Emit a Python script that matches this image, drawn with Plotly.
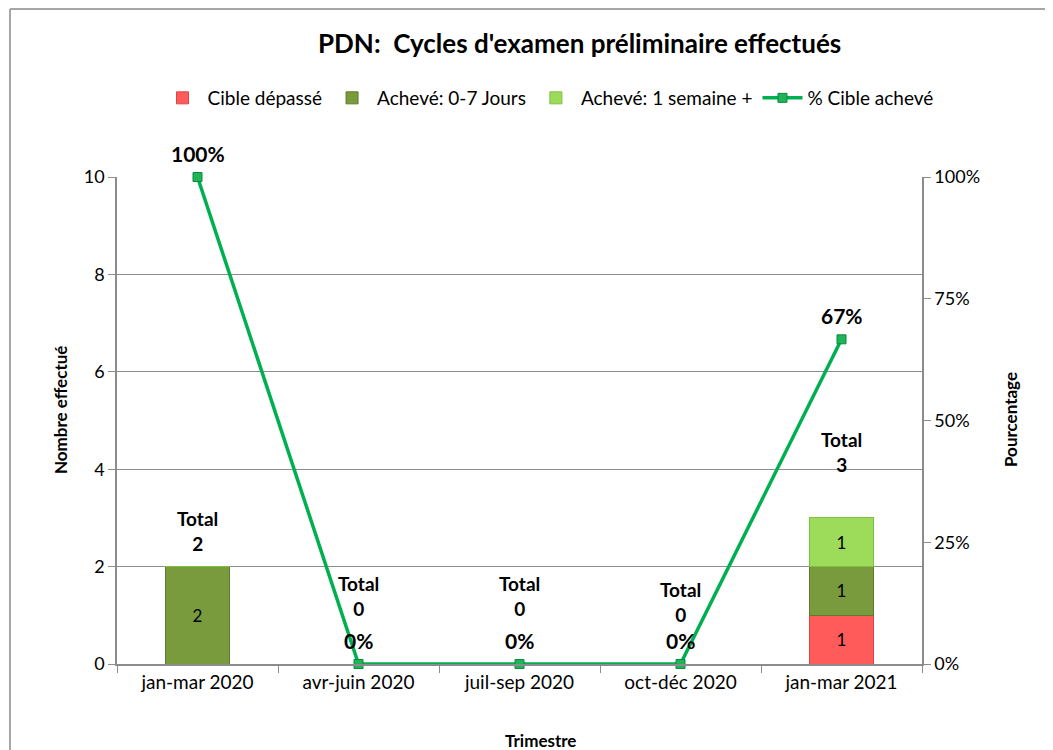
import plotly.graph_objects as go

categories = ["jan-mar 2020", "avr-juin 2020", "juil-sep 2020", "oct-déc 2020", "jan-mar 2021"]
cible_depasse = [0, 0, 0, 0, 1]
acheve_0_7 = [2, 0, 0, 0, 1]
acheve_1_sem = [0, 0, 0, 0, 1]
pct_acheve = [1.0, 0.0, 0.0, 0.0, 0.6667]
pct_labels = ["100%", "0%", "0%", "0%", "67%"]
totals = [a + b + c for a, b, c in zip(cible_depasse, acheve_0_7, acheve_1_sem)]
total_yshift = [10, 42, 42, 36, 40]

FONT = "Lato, 'Open Sans', sans-serif"
GRID = "#8c8c8c"
AX = "#8c8c8c"

# page has an 8px body margin; coordinates below are page pixels
OFF = 8
W, H = 1053 - OFF, 750 - OFF
L, R, T, B = 117, 922, 177, 664


def px(x):
    return (x - L) / (R - L)


def py(y):
    return (B - y) / (B - T)


def lbl(vals):
    return [str(v) if v else "" for v in vals]


fig = go.Figure()
fig.add_trace(go.Bar(
    name="Cible dépassé", x=categories, y=cible_depasse, text=lbl(cible_depasse),
    marker=dict(color="#FF5B5B", line=dict(color="#D94545", width=1)),
    textposition="inside", insidetextanchor="middle",
    textfont=dict(color="black", size=17, family=FONT), width=0.4,
))
fig.add_trace(go.Bar(
    name="Achevé: 0-7 Jours", x=categories, y=acheve_0_7, text=lbl(acheve_0_7),
    marker=dict(color="#7A9A3E", line=dict(color="#5E7A2C", width=1)),
    textposition="inside", insidetextanchor="middle",
    textfont=dict(color="black", size=17, family=FONT), width=0.4,
))
fig.add_trace(go.Bar(
    name="Achevé: 1 semaine +", x=categories, y=acheve_1_sem, text=lbl(acheve_1_sem),
    marker=dict(color="#9DDB5A", line=dict(color="#7FBF3E", width=1)),
    textposition="inside", insidetextanchor="middle",
    textfont=dict(color="black", size=17, family=FONT), width=0.4,
))
fig.add_trace(go.Scatter(
    name="% Cible achevé", x=categories, y=pct_acheve, yaxis="y2",
    mode="lines+markers",
    line=dict(color="#00B050", width=3.5),
    marker=dict(symbol="square", size=9, color="#1DB45A", line=dict(color="#0A8A3A", width=1)),
    cliponaxis=False,
))

for c, p, t in zip(categories, pct_acheve, pct_labels):
    fig.add_annotation(
        x=c, y=p, xref="x", yref="y2", yanchor="middle", xanchor="center", yshift=24,
        text="<b>%s</b>" % t, showarrow=False,
        font=dict(size=21, color="black", family=FONT),
    )

for c, t, ys in zip(categories, totals, total_yshift):
    fig.add_annotation(
        x=c, y=t, xref="x", yref="y", yanchor="bottom", xanchor="center", yshift=ys,
        text="<b>Total<br>%d</b>" % t, showarrow=False,
        font=dict(size=19, color="black", family=FONT),
    )

fig.add_annotation(
    x=px(579), y=py(43), xref="paper", yref="paper", xanchor="center", yanchor="middle",
    text="<b>PDN:  Cycles d'examen préliminaire effectués</b>", showarrow=False,
    font=dict(size=26, color="black", family=FONT),
)
fig.add_annotation(
    x=px(60), y=py(410), xref="paper", yref="paper", textangle=-90,
    xanchor="center", yanchor="middle",
    text="<b>Nombre effectué</b>", showarrow=False,
    font=dict(size=17, color="black", family=FONT),
)
fig.add_annotation(
    x=px(1010), y=py(420), xref="paper", yref="paper", textangle=-90,
    xanchor="center", yanchor="middle",
    text="<b>Pourcentage</b>", showarrow=False,
    font=dict(size=17, color="black", family=FONT),
)
fig.add_annotation(
    x=px(540), y=py(740), xref="paper", yref="paper", xanchor="center", yanchor="middle",
    text="<b>Trimestre</b>", showarrow=False,
    font=dict(size=17, color="black", family=FONT),
)

# outer chart border (top and left)
fig.add_shape(type="line", xref="paper", yref="paper",
              x0=px(10), x1=px(1070), y0=py(9), y1=py(9),
              line=dict(color="#a6a6a6", width=2))
fig.add_shape(type="line", xref="paper", yref="paper",
              x0=px(10), x1=px(10), y0=py(9), y1=py(770),
              line=dict(color="#a6a6a6", width=2))

fig.update_layout(
    width=W, height=H,
    margin=dict(l=L - OFF, r=1053 - R, t=T - OFF, b=750 - B),
    barmode="stack",
    plot_bgcolor="white", paper_bgcolor="white",
    font=dict(family=FONT, size=18, color="black"),
    showlegend=True,
    legend=dict(orientation="h", x=px(548), xanchor="center", y=py(98), yanchor="middle",
                font=dict(size=19, family=FONT), traceorder="normal",
                itemwidth=40),
    xaxis=dict(
        showline=True, linecolor=AX, linewidth=1.5,
        ticks="outside", ticklen=7, tickcolor=AX, tickson="boundaries",
        tickfont=dict(size=19), showgrid=False,
    ),
    yaxis=dict(
        range=[0, 10], dtick=2, showline=True, linecolor=AX, linewidth=1.5,
        ticks="outside", ticklen=7, tickcolor=AX, showgrid=True, gridcolor=GRID,
        gridwidth=1, tickfont=dict(size=18), zeroline=False,
    ),
    yaxis2=dict(
        range=[0, 1], dtick=0.25, tickformat=".0%", overlaying="y", side="right",
        showline=True, linecolor=AX, linewidth=1.5, ticks="outside", ticklen=7,
        tickcolor=AX, showgrid=False, tickfont=dict(size=18), zeroline=False,
    ),
)

fig.write_html("out.html")
